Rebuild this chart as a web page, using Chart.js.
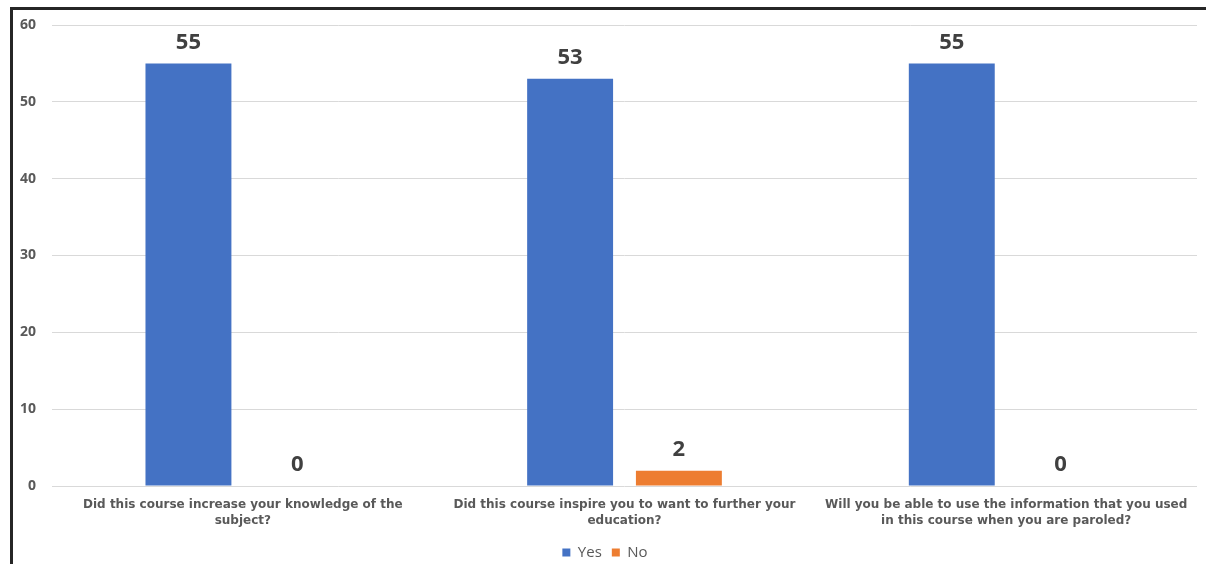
<!DOCTYPE html>
<html>
<head>
<meta charset="utf-8">
<script src="https://cdn.jsdelivr.net/npm/chart.js@4/dist/chart.umd.min.js"></script>
<style>
  html, body { margin: 0; padding: 0; background: #fff; }
  body { width: 1206px; height: 564px; position: relative; overflow: hidden; }
  #frame { position: absolute; left: 10px; top: 7px; width: 1196px; height: 563px;
           border-top: 3px solid #262626; border-left: 3px solid #262626; box-sizing: border-box; }
  #wrap { position: absolute; left: 0; top: 0; width: 1193px; height: 560px; }
</style>
</head>
<body>
<div id="frame"><div id="wrap"><canvas id="c"></canvas></div></div>
<script>
const categories = [
  ["Did this course increase your knowledge of the", "subject?"],
  ["Did this course inspire you to want to further your", "education?"],
  ["Will you be able to use the information that you used", "in this course when you are paroled?"]
];
const yesValues = [55, 53, 55];
const noValues = [0, 2, 0];
const yTicks = [0, 10, 20, 30, 40, 50, 60];

const FONT = "'Open Sans', 'DejaVu Sans', sans-serif";
const XFONT = "'DejaVu Sans', sans-serif";

const valueLabels = {
  id: 'valueLabels',
  afterDatasetsDraw(chart) {
    const ctx = chart.ctx;
    ctx.save();
    ctx.font = "bold 22px " + FONT;
    ctx.fillStyle = '#404040';
    ctx.textAlign = 'center';
    ctx.textBaseline = 'middle';
    chart.data.datasets.forEach((ds, i) => {
      chart.getDatasetMeta(i).data.forEach((bar, j) => {
        ctx.fillText(String(ds.data[j]), bar.x, bar.y - 21);
      });
    });
    ctx.restore();
  }
};

new Chart(document.getElementById('c'), {
  type: 'bar',
  data: {
    labels: categories,
    datasets: [
      { label: 'Yes', data: yesValues, backgroundColor: '#4472C4', categoryPercentage: 0.57, barPercentage: 0.79 },
      { label: 'No', data: noValues, backgroundColor: '#ED7D31', categoryPercentage: 0.57, barPercentage: 0.79 }
    ]
  },
  options: {
    responsive: true,
    maintainAspectRatio: false,
    animation: false,
    layout: { padding: { top: 15, right: 9, left: 0, bottom: 0 } },
    plugins: {
      legend: {
        position: 'bottom',
        labels: { boxWidth: 8, boxHeight: 8, padding: 10, color: '#595959', font: { family: FONT, size: 15 } }
      },
      tooltip: { enabled: false }
    },
    scales: {
      x: {
        grid: { display: false, drawTicks: false },
        border: { display: false },
        ticks: { color: '#595959', padding: 10, maxRotation: 0, autoSkip: false, font: { family: XFONT, size: 12, weight: 'bold', lineHeight: 1.4 } },
        afterFit: s => { s.height = 49; }
      },
      y: {
        min: 0, max: 60,
        afterBuildTicks: s => { s.ticks = yTicks.map(v => ({ value: v })); },
        grid: { color: '#d9d9d9', lineWidth: 1, drawTicks: false },
        border: { display: false },
        ticks: { color: '#595959', padding: 16, font: { family: FONT, size: 14, weight: 'bold' } },
        afterFit: s => { s.width = 39; s.paddingTop = 0; s.paddingBottom = 0; }
      }
    }
  },
  plugins: [valueLabels]
});
</script>
</body>
</html>
